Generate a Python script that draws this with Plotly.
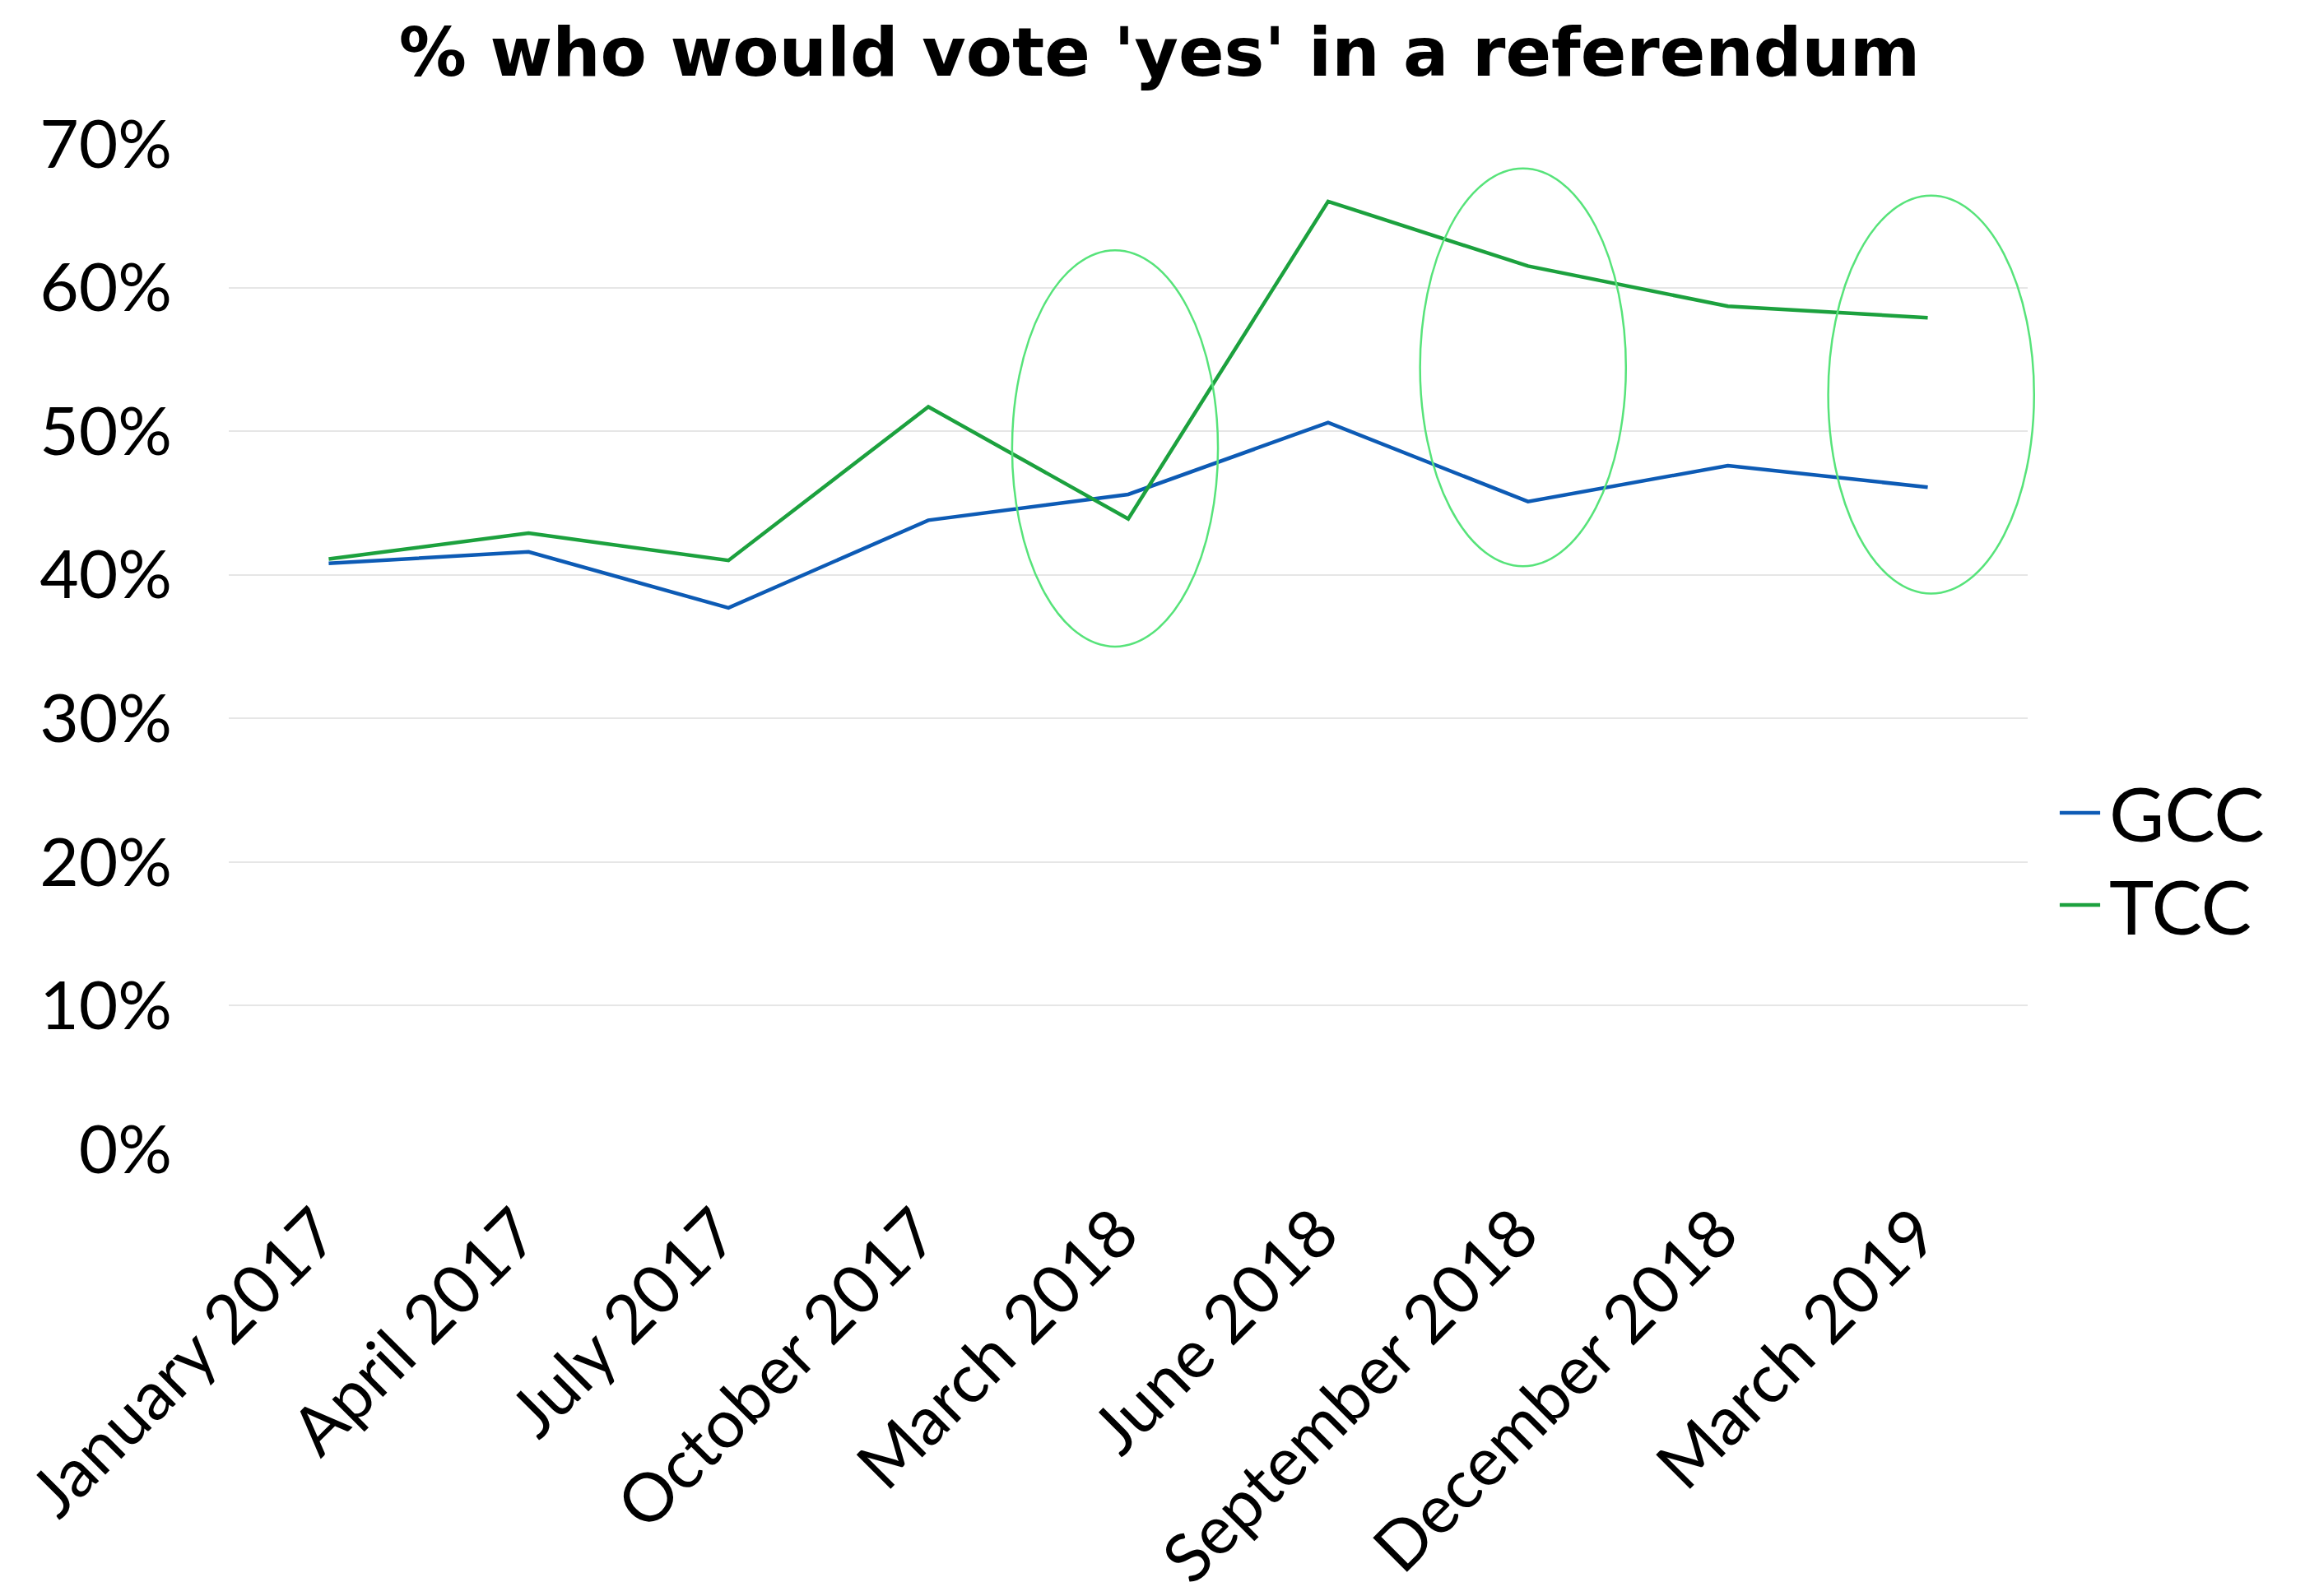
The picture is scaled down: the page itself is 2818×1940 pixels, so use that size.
import plotly.graph_objects as go

categories = ["January 2017", "April 2017", "July 2017", "October 2017", "March 2018",
              "June 2018", "September 2018", "December 2018", "March 2019"]
gcc = [0.408, 0.416, 0.377, 0.438, 0.456, 0.506, 0.451, 0.476, 0.461]
tcc = [0.411, 0.429, 0.410, 0.517, 0.439, 0.660, 0.615, 0.587, 0.579]
y_ticks = [0, 0.1, 0.2, 0.3, 0.4, 0.5, 0.6, 0.7]
y_max = 0.7

series_names = ["GCC", "TCC"]
series_colors = ["#0D5BB5", "#1CA13E"]

# highlight ellipses: category, low, high (fraction)
ellipse_cats = ["March 2018", "September 2018", "March 2019"]
ellipse_lo = [0.350, 0.406, 0.387]
ellipse_hi = [0.626, 0.683, 0.664]
ellipse_shift = [-0.066, -0.025, 0.017]

FONT = "Lato"

fig = go.Figure()
for name, vals, col in zip(series_names, [gcc, tcc], series_colors):
    fig.add_trace(go.Scatter(x=categories, y=vals, mode="lines", name=name,
                             line=dict(color=col, width=4.5), showlegend=False))

n = len(categories)
for c, lo, hi, sh in zip(ellipse_cats, ellipse_lo, ellipse_hi, ellipse_shift):
    i = categories.index(c) + sh
    fig.add_shape(type="circle", xref="paper", yref="paper",
                  x0=(i - 0.515 + 0.5) / n, x1=(i + 0.515 + 0.5) / n,
                  y0=lo / y_max, y1=hi / y_max,
                  line=dict(color="#57E37A", width=2.5), layer="above")

# custom legend (longer line keys)
legend_y = [0.3347, 0.243]
for name, col, ly in zip(series_names, series_colors, legend_y):
    fig.add_shape(type="line", xref="paper", yref="paper", x0=1.0178, x1=1.0403,
                  y0=ly, y1=ly, line=dict(color=col, width=4.5))
    fig.add_annotation(text=name, xref="paper", yref="paper", x=1.0445, y=ly,
                       xanchor="left", yanchor="middle", showarrow=False,
                       font=dict(family=FONT, size=92, color="black"))

fig.update_layout(
    width=2818, height=1940,
    paper_bgcolor="white", plot_bgcolor="white",
    margin=dict(l=278, r=354, t=175, b=543, autoexpand=False),
    title=dict(text="<b>% who would vote 'yes' in a referendum</b>", x=0.5, xref="container",
               y=1 - 63 / 1940, yref="container", yanchor="middle", xanchor="center",
               font=dict(family="DejaVu Sans", size=82, color="black")),
    font=dict(family=FONT, color="black"),
    showlegend=False,
)
fig.update_xaxes(type="category", tickangle=-45, tickfont=dict(family=FONT, size=82),
                 showgrid=False, showline=False, ticks="", zeroline=False, automargin=False,
                 range=[-0.5, n - 0.5], ticklabelstandoff=36, ticklabelshift=-12)
fig.update_yaxes(range=[0, y_max], tickvals=y_ticks, tickformat=".0%",
                 tickfont=dict(family=FONT, size=82), showgrid=True, automargin=False,
                 gridcolor="#E6E6E6", gridwidth=2, zeroline=False, showline=False,
                 ticks="", ticklabelstandoff=68)

fig.write_html("out.html")
